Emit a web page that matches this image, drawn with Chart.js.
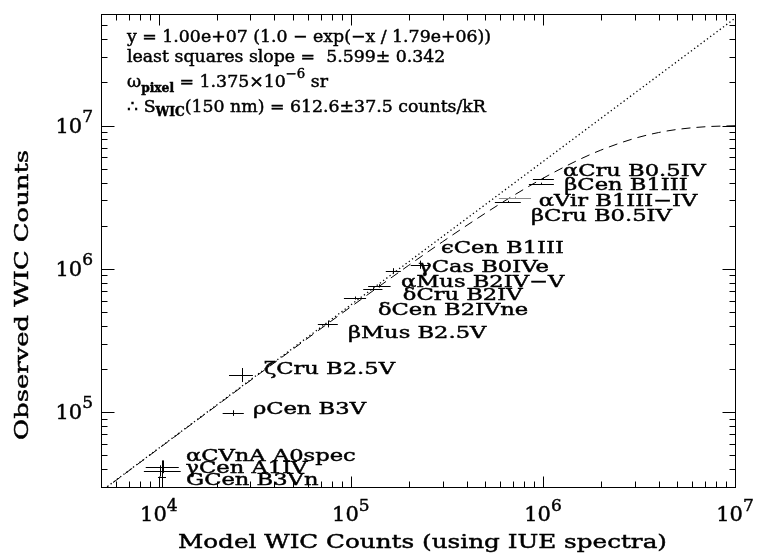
<!DOCTYPE html>
<html>
<head>
<meta charset="utf-8">
<script src="https://cdn.jsdelivr.net/npm/chart.js@4/dist/chart.umd.min.js"></script>
<style>
html, body { margin: 0; padding: 0; background: #fff; }
#wrap { width: 758px; height: 556px; }
</style>
</head>
<body>
<div id="wrap"><canvas id="wic"></canvas></div>
<script>
// star names and measured / modelled counts
const starNames = ['αCru B0.5IV', 'βCen B1III', 'αVir B1III−IV', 'βCru B0.5IV', 'ϵCen B1III',
  'γCas B0IVe', 'αMus B2IV−V', 'δCru B2IV', 'δCen B2IVne', 'βMus B2.5V',
  'ζCru B2.5V', 'ρCen B3V', 'αCVnA A0spec', 'γCen A1IV', 'GCen B3Vn']
const modelCounts = [1.00e6, 9.8e5, 7.14e5, 6.58e5, 2.29e5, 1.66e5, 1.40e5, 1.30e5, 1.05e5, 7.59e4, 2.71e4, 2.43e4, 1.05e4, 1.02e4, 1.04e4]
const modelLo = [8.87e5, 8.45e5, 5.9e5, 5.62e5, 2.05e5, 1.52e5, 1.23e5, 1.16e5, 9.2e4, 6.73e4, 2.32e4, 2.15e4, 8.55e3, 8.36e3, 9.9e3]
const modelHi = [1.14e6, 1.14e6, 8.67e5, 7.67e5, 2.55e5, 1.82e5, 1.61e5, 1.46e5, 1.2e5, 8.55e4, 3.09e4, 2.77e4, 1.27e4, 1.30e4, 1.09e4]
const obsCounts = [4.26e6, 3.93e6, 3.14e6, 2.94e6, 1.07e6, 9.69e5, 7.61e5, 7.2e5, 6.27e5, 4.12e5, 1.81e5, 9.84e4, 4.12e4, 3.87e4, 3.5e4]
const obsLo = [4.2e6, 3.87e6, 3.1e6, 2.9e6, 1.0e6, 9.3e5, 7.4e5, 7.0e5, 6.1e5, 3.9e5, 1.62e5, 9.4e4, 3.75e4, 3.55e4, 2.0e4]
const obsHi = [4.32e6, 3.99e6, 3.18e6, 2.98e6, 1.14e6, 1.01e6, 7.8e5, 7.4e5, 6.4e5, 4.35e5, 2.03e5, 1.03e5, 4.6e4, 4.25e4, 4.6e4]

// saturation fit y = 1e7 (1 - exp(-x / 1.79e6)), read at a few x
const fitX = [5e3, 1e4, 2e4, 5e4, 1e5, 2e5, 3e5, 5e5, 7e5, 1e6, 1.5e6, 2e6, 3e6, 4e6, 5e6, 7e6, 1e7]
const fitY = [2.79e4, 5.57e4, 1.111e5, 2.755e5, 5.43e5, 1.057e6, 1.543e6, 2.437e6, 3.237e6, 4.28e6, 5.674e6, 6.728e6, 8.128e6, 8.93e6, 9.388e6, 9.80e6, 9.963e6]
// least squares line, slope 5.599
const slopeX = [5e3, 1e7]
const slopeY = [2.80e4, 5.599e7]

const xTickPowers = [4, 5, 6, 7]
const yTickPowers = [5, 6, 7]

// label placement relative to each cross (pixels)
const labelShift = [[20, -9], [23, 0], [24, 2], [23, 13], [21, -18], [25, -5], [22, -5], [30, 5],
  [23, 11], [20, 8], [22, -7], [20, -5], [23, -12], [25, -4], [24, 2]]
const barGrey = {2: '#8a8a8a'}

const SERIF = '"DejaVu Serif", "Liberation Serif", serif'

function zip(xs, ys) {
  return xs.map(function (x, i) { return {x: x, y: ys[i]} })
}

// draw a row of text pieces, stretched sideways
function drawPieces(ctx, pieces, x, y, sx) {
  var cx = x
  pieces.forEach(function (p) {
    ctx.font = p.font
    ctx.save()
    ctx.translate(cx, y + (p.dy || 0))
    ctx.scale(sx, 1)
    ctx.fillText(p.t, 0, 0)
    ctx.strokeText(p.t, 0, 0)
    ctx.restore()
    cx += ctx.measureText(p.t).width * sx
  })
  return cx - x
}

function piecesWidth(ctx, pieces) {
  var w = 0
  pieces.forEach(function (p) { ctx.font = p.font; w += ctx.measureText(p.t).width })
  return w
}

const errorBars = {
  id: 'errorBars',
  afterDatasetsDraw: function (chart) {
    var ctx = chart.ctx, xs = chart.scales.x, ys = chart.scales.y, a = chart.chartArea
    ctx.save()
    ctx.beginPath()
    ctx.rect(a.left, a.top, a.right - a.left, a.bottom - a.top)
    ctx.clip()
    ctx.lineWidth = 1
    modelCounts.forEach(function (m, i) {
      var px = Math.round(xs.getPixelForValue(m)) + 0.5
      var py = Math.round(ys.getPixelForValue(obsCounts[i])) + 0.5
      ctx.strokeStyle = barGrey[i] || '#000'
      ctx.beginPath()
      ctx.moveTo(xs.getPixelForValue(modelLo[i]), py)
      ctx.lineTo(xs.getPixelForValue(modelHi[i]), py)
      ctx.moveTo(px, ys.getPixelForValue(obsLo[i]))
      ctx.lineTo(px, ys.getPixelForValue(obsHi[i]))
      ctx.stroke()
    })
    ctx.restore()

    // star labels
    ctx.save()
    ctx.fillStyle = '#000'
    ctx.strokeStyle = '#000'
    ctx.lineWidth = 0.45
    ctx.textBaseline = 'alphabetic'
    var lf = '17px ' + SERIF
    ctx.font = lf
    var sx = 143 / ctx.measureText(starNames[0]).width
    starNames.forEach(function (n, i) {
      var px = xs.getPixelForValue(modelCounts[i]) + labelShift[i][0]
      var py = ys.getPixelForValue(obsCounts[i]) + labelShift[i][1] + 6
      drawPieces(ctx, [{t: n, font: lf}], px, py, sx)
    })
    ctx.restore()
  }
}

const frame = {
  id: 'frame',
  afterDraw: function (chart) {
    var ctx = chart.ctx, xs = chart.scales.x, ys = chart.scales.y, a = chart.chartArea
    var L = Math.round(a.left) + 0.5, R = Math.round(a.right) + 0.5
    var T = Math.round(a.top) + 0.5, B = Math.round(a.bottom) + 0.5
    ctx.save()
    ctx.strokeStyle = '#000'
    ctx.lineWidth = 1
    ctx.strokeRect(L, T, R - L, B - T)
    ctx.beginPath()
    for (var k = 3; k <= 7; k++) {
      for (var m = 1; m <= 9; m++) {
        var v = m * Math.pow(10, k)
        if (v < xs.min || v > xs.max) continue
        var p = Math.round(xs.getPixelForValue(v)) + 0.5
        var len = m === 1 ? 11 : 6
        ctx.moveTo(p, B); ctx.lineTo(p, B - len)
        ctx.moveTo(p, T); ctx.lineTo(p, T + len)
      }
    }
    for (k = 4; k <= 7; k++) {
      for (m = 1; m <= 9; m++) {
        v = m * Math.pow(10, k)
        if (v < ys.min || v > ys.max) continue
        p = Math.round(ys.getPixelForValue(v)) + 0.5
        len = m === 1 ? 13 : 6
        ctx.moveTo(L, p); ctx.lineTo(L + len, p)
        ctx.moveTo(R, p); ctx.lineTo(R - len, p)
      }
    }
    ctx.stroke()

    ctx.fillStyle = '#000'
    ctx.lineWidth = 0.45

    // tick labels 10^n
    var big = '21px ' + SERIF, small = '17px ' + SERIF
    xTickPowers.forEach(function (n) {
      var pcs = [{t: '10', font: big}, {t: String(n), font: small, dy: -10}]
      var w = piecesWidth(ctx, pcs)
      drawPieces(ctx, pcs, xs.getPixelForValue(Math.pow(10, n)) - w / 2, 521, 1)
    })
    yTickPowers.forEach(function (n) {
      var pcs = [{t: '10', font: big}, {t: String(n), font: small, dy: -11}]
      var w = piecesWidth(ctx, pcs)
      drawPieces(ctx, pcs, 93 - w, ys.getPixelForValue(Math.pow(10, n)) + 7, 1)
    })

    // axis titles
    var tf = '19px ' + SERIF
    var xt = [{t: 'Model WIC Counts (using IUE spectra)', font: tf}]
    var sxt = 489 / piecesWidth(ctx, xt)
    drawPieces(ctx, xt, 178, 548, sxt)
    var yt = [{t: 'Observed WIC Counts', font: tf}]
    ctx.save()
    ctx.translate(28, 440)
    ctx.rotate(-Math.PI / 2)
    drawPieces(ctx, yt, 0, 0, 290 / piecesWidth(ctx, yt))
    ctx.restore()

    // fit annotation
    var af = '17px ' + SERIF, sub = 'bold 12px ' + SERIF, sup = '13px ' + SERIF
    var line1 = [{t: 'y = 1.00e+07 (1.0 − exp(−x / 1.79e+06))', font: af}]
    var sa = 364 / piecesWidth(ctx, line1)
    drawPieces(ctx, line1, 127, 42, sa)
    drawPieces(ctx, [{t: 'least squares slope =  5.599± 0.342', font: af}], 127, 62, sa)
    drawPieces(ctx, [{t: 'ω', font: af}, {t: 'pixel', font: sub, dy: 5},
      {t: ' = 1.375×10', font: af}, {t: '−6', font: sup, dy: -9}, {t: ' sr', font: af}], 127, 87, sa)
    drawPieces(ctx, [{t: '∴ S', font: af}, {t: 'WIC', font: sub, dy: 4},
      {t: '(150 nm) = 612.6±37.5 counts/kR', font: af}], 127, 112, sa)
    ctx.restore()
  }
}

new Chart(document.getElementById('wic'), {
  type: 'scatter',
  data: {
    datasets: [
      {
        label: 'stars',
        data: zip(modelCounts, obsCounts),
        pointRadius: 0,
        showLine: false
      },
      {
        label: 'saturation fit',
        data: zip(fitX, fitY),
        showLine: true,
        borderColor: '#000',
        borderWidth: 1,
        borderDash: [9, 6],
        pointRadius: 0,
        cubicInterpolationMode: 'monotone'
      },
      {
        label: 'least squares',
        data: zip(slopeX, slopeY),
        showLine: true,
        borderColor: '#000',
        borderWidth: 1.3,
        borderDash: [1.3, 2.7],
        pointRadius: 0
      }
    ]
  },
  options: {
    responsive: true,
    maintainAspectRatio: false,
    animation: false,
    events: [],
    layout: {padding: {left: 101, right: 23, top: 14, bottom: 69}},
    scales: {
      x: {type: 'logarithmic', min: 5000, max: 1e7, display: false},
      y: {type: 'logarithmic', min: 3e4, max: 6e7, display: false}
    },
    plugins: {
      legend: {display: false},
      tooltip: {enabled: false}
    }
  },
  plugins: [errorBars, frame]
})
</script>
</body>
</html>
